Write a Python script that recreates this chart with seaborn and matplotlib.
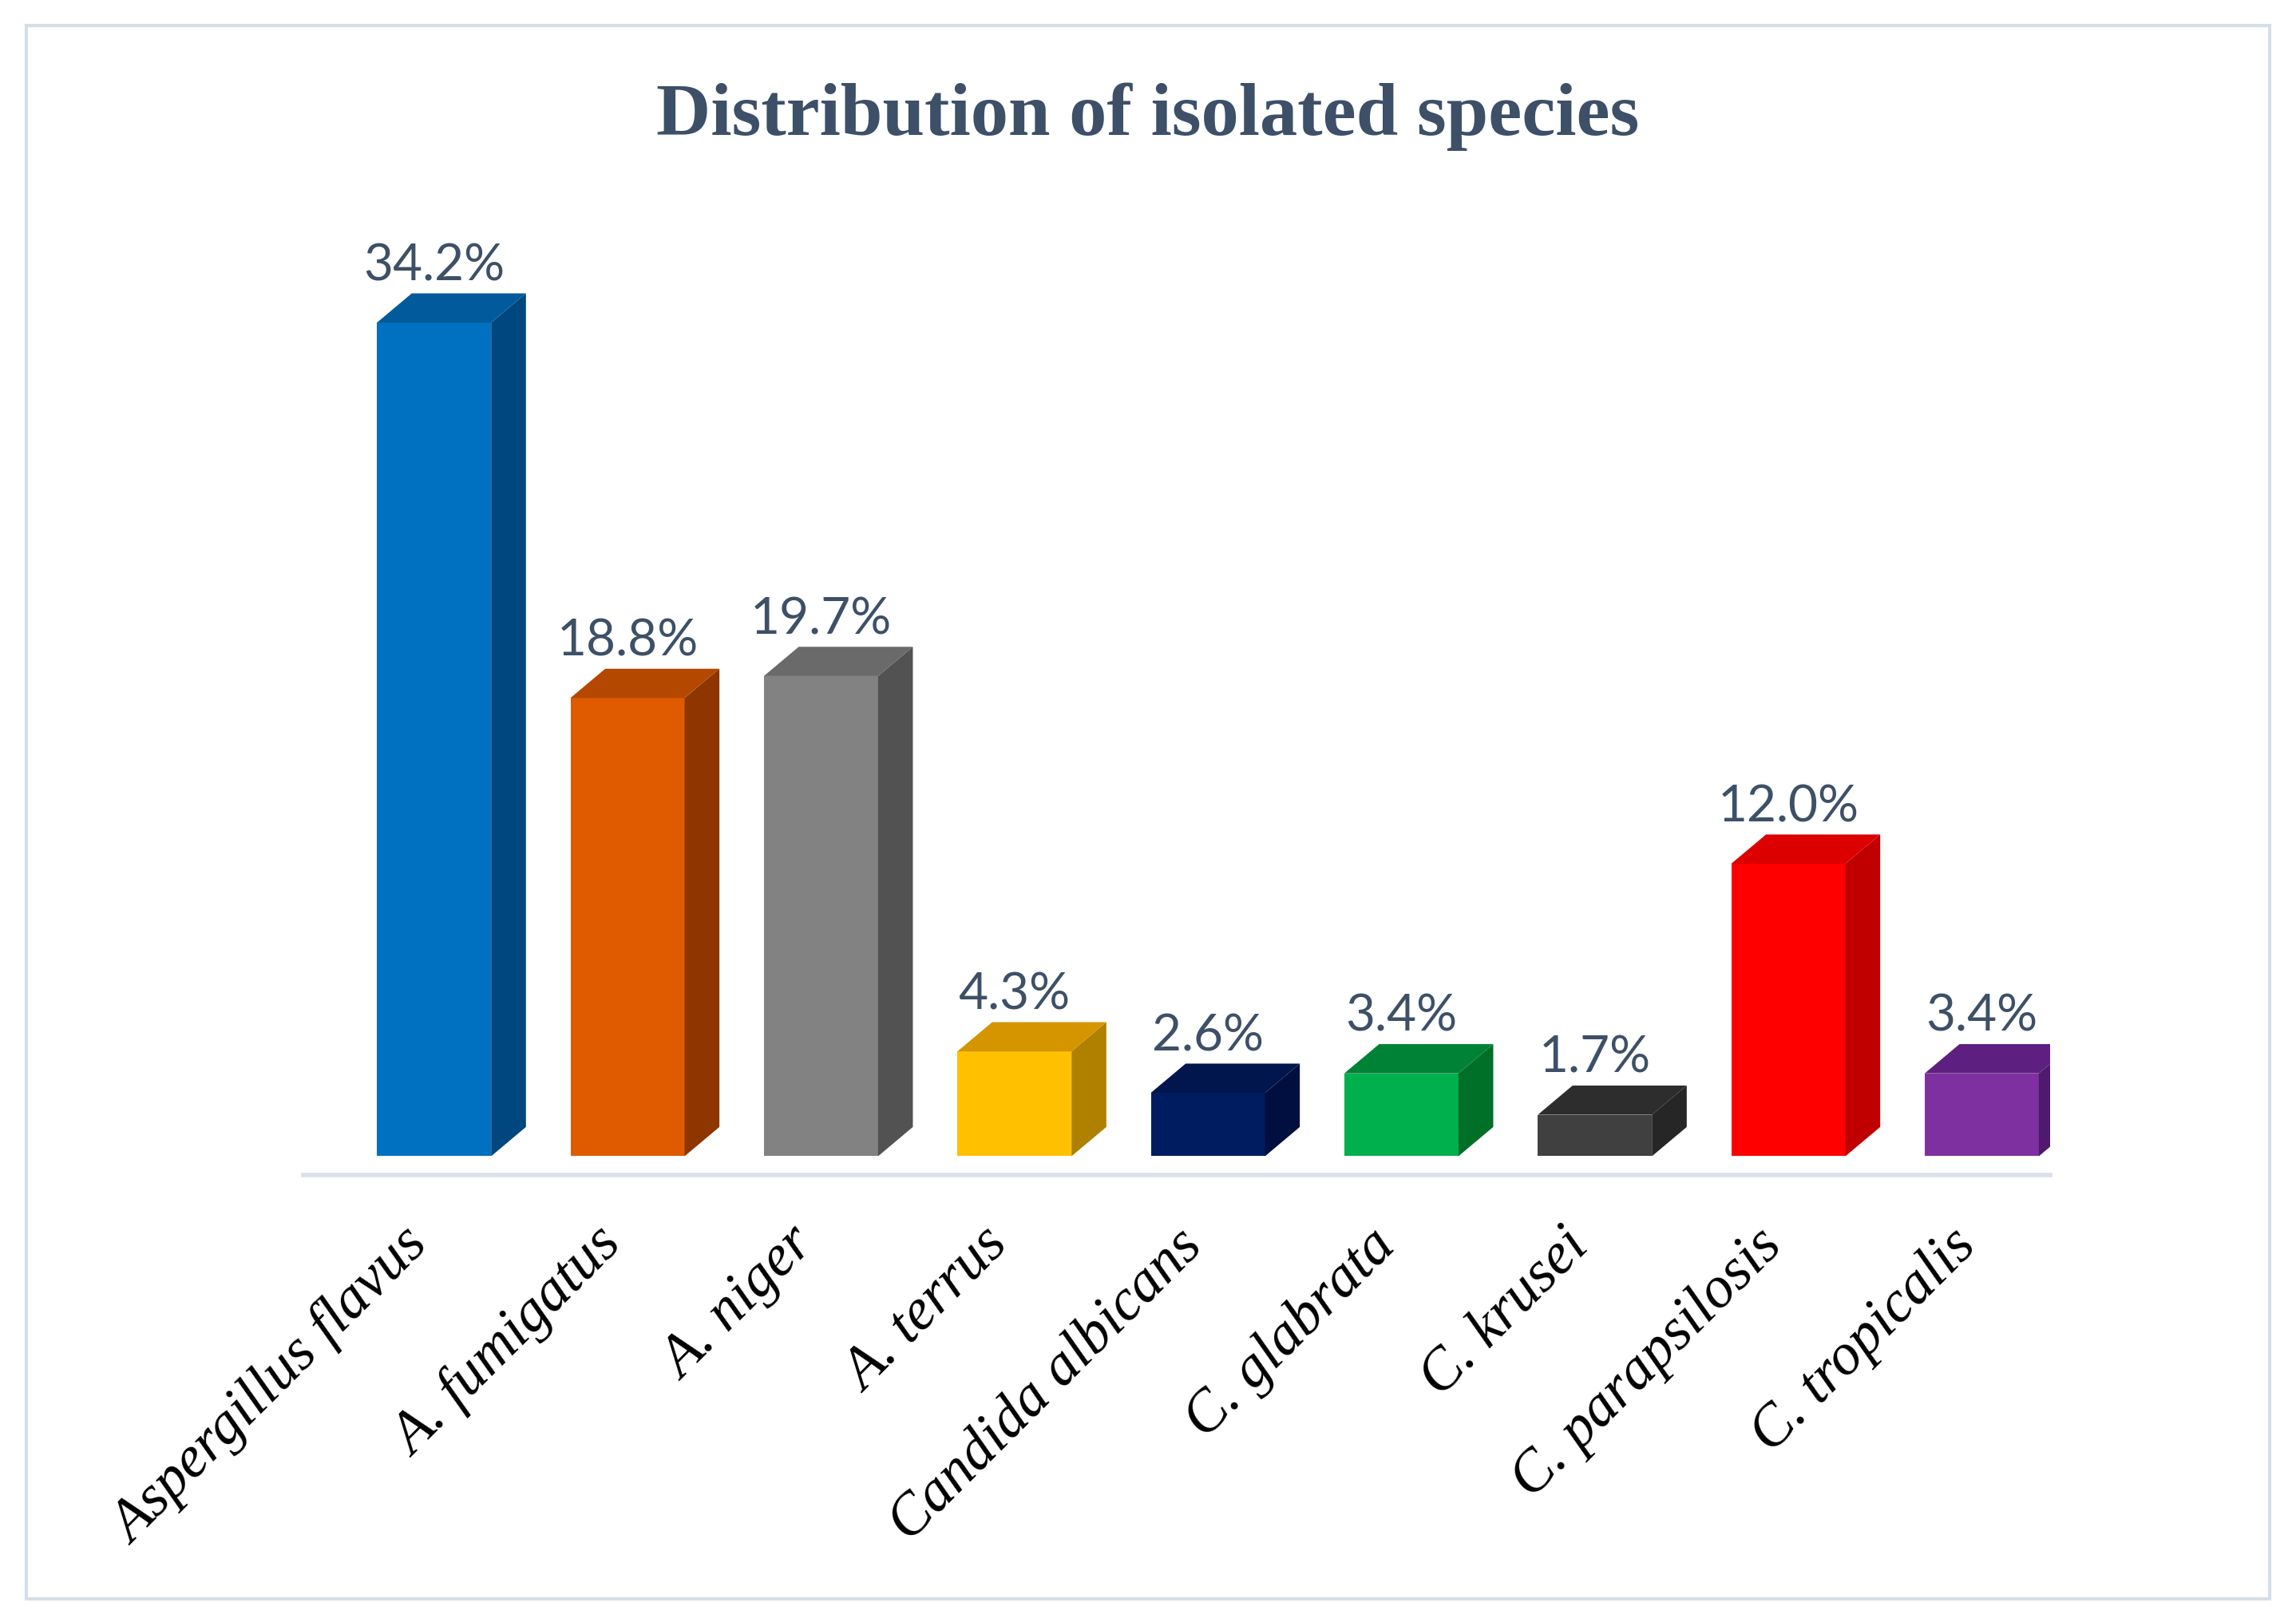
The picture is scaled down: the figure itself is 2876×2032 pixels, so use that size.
import numpy as np
import pandas as pd
import matplotlib
matplotlib.use('Agg')
import matplotlib.pyplot as plt
import matplotlib.transforms as mtransforms
from matplotlib.patches import Polygon, Rectangle
import seaborn as sns

# data
species = ['Aspergillus flavus', 'A. fumigatus', 'A. niger', 'A. terrus',
           'Candida albicans', 'C. glabrata', 'C. krusei', 'C. parapsilosis',
           'C. tropicalis']
percent = [34.2, 18.8, 19.7, 4.3, 2.6, 3.4, 1.7, 12.0, 3.4]

front_colors = ['#0070c0', '#e05a00', '#828282', '#ffc000', '#001c60',
                '#00b04c', '#404040', '#ff0000', '#7f30a0']
side_colors = ['#00467f', '#8e3500', '#525252', '#b08000', '#000f40',
               '#007028', '#262626', '#c00000', '#4e1a6e']
top_colors = ['#005a9c', '#b44800', '#6a6a6a', '#d49500', '#00164c',
              '#008236', '#2d2d2d', '#dc0000', '#5e2080']

df = pd.DataFrame({'species': species, 'percent': percent})

sns.set_style('white')
fig = plt.figure(figsize=(28.76, 20.33), dpi=100)
ax = fig.add_axes([0.1320, 0.2753, 0.7608, 0.5894])

sns.barplot(data=df, x='species', y='percent', hue='species',
            palette=front_colors, width=0.59, saturation=1, legend=False,
            ax=ax, linewidth=0)

# fake 3d depth: side and top faces
dx = 0.18
dy = 1.2
for i, p in enumerate(ax.patches):
    x0 = p.get_x()
    x1 = x0 + p.get_width()
    h = p.get_height()
    side = Polygon([(x1, 0), (x1 + dx, dy), (x1 + dx, h + dy), (x1, h)],
                   closed=True, facecolor=side_colors[i], edgecolor='none')
    top = Polygon([(x0, h), (x0 + dx, h + dy), (x1 + dx, h + dy), (x1, h)],
                  closed=True, facecolor=top_colors[i], edgecolor='none')
    ax.add_patch(side)
    ax.add_patch(top)
    ax.text(x0 + p.get_width() / 2, h + dy + 0.2, f'{h:.1f}%',
            ha='center', va='bottom', fontsize=46, color='#3d5068',
            family=['Lato', 'DejaVu Sans'])

ax.set_xlim(-0.677, 8.352)
ax.set_ylim(-0.78, 38.46)
ax.set_xlabel('')
ax.set_ylabel('')
ax.set_yticks([])
for s in ['top', 'left', 'right']:
    ax.spines[s].set_visible(False)
ax.spines['bottom'].set_color('#d9e1ea')
ax.spines['bottom'].set_linewidth(4)
ax.tick_params(axis='x', length=0, pad=30)
ax.set_xticks(range(len(species)))
ax.set_xticklabels(species, rotation=45, ha='right', va='top',
                   rotation_mode='anchor', fontsize=53, style='italic',
                   family=['Liberation Serif', 'DejaVu Serif'], color='black')
# nudge the labels a bit left and down, like the reference
shift = mtransforms.ScaledTranslation(-0.42, -0.12, fig.dpi_scale_trans)
for lbl in ax.get_xticklabels():
    lbl.set_transform(lbl.get_transform() + shift)

fig.text(0.5, 0.928, 'Distribution of isolated species', ha='center',
         va='center', fontsize=68, fontweight='bold', color='#3d5068',
         family=['Liberation Serif', 'DejaVu Serif'])

frame = Rectangle((18 / 1568, 1 - 1092 / 1108), 1532 / 1568, 1074 / 1108,
                  transform=fig.transFigure, fill=False, edgecolor='#d6dee8',
                  linewidth=3)
fig.patches.append(frame)

fig.savefig('out.png', dpi=100, facecolor='white')
